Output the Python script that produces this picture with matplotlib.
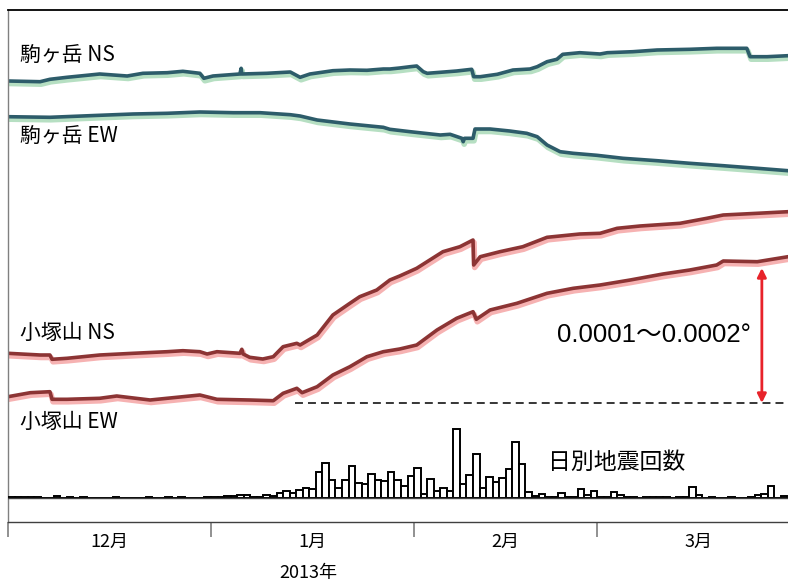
import numpy as np
import matplotlib
matplotlib.use('Agg')
import matplotlib.pyplot as plt
import matplotlib.transforms as mtransforms

# ---------------- data (x: days since 2012-12-01, y: display units) ----------------

kg_ns_day = [0, 4.9, 6.4, 9.0, 12.5, 14.0, 18.2, 20.6, 24.3, 26.7, 29.3, 29.9, 31.3, 35.4, 35.6, 35.7,
             39.5, 43.1, 44.6, 46.1, 49.6, 52.2, 54.8, 57.3, 58.3, 59.8, 61.4, 62.4, 63.4, 64.0, 66.0,
             68.5, 70.8, 71.1, 72.1, 74.7, 77.1, 79.7, 80.8, 82.3, 83.8, 84.7, 87.3, 90.4, 91.5, 95.4,
             99.1, 104.1, 108.2, 112.8, 113.3, 115.9, 119.1]
kg_ns_val = [441, 440.3, 442.7, 444.7, 447, 448, 446, 448.7, 449.3, 450.7, 448.7, 443.7, 446, 448, 453.7, 448,
             448.7, 450, 444.7, 448, 451.3, 452, 451.7, 453, 453, 454, 455.3, 456, 450.3, 448.7, 449.7,
             451, 452.7, 445.3, 445.3, 447.7, 452, 453, 455.3, 460.3, 462.7, 467.7, 469.3, 468, 469.3, 470.3,
             472, 472.7, 473.7, 473.7, 465.3, 465.3, 466.3]

kg_ew_day = [0, 6.4, 14.0, 19.1, 24.3, 29.3, 34.4, 38.5, 43.1, 44.6, 47.2, 52.2, 57.3, 58.3, 61.4, 66.0,
             67.5, 69.3, 69.5, 69.7, 71.0, 71.3, 73.6, 76.6, 79.2, 80.8, 82.3, 84.3, 86.3, 89.9, 93.9,
             99.1, 104.1, 109.2, 114.4, 119.1]
kg_ew_val = [405.3, 404.7, 406.7, 408, 408.7, 410, 409.3, 409.3, 407.3, 406, 402, 398, 394.7, 392.7, 390.3, 387,
             387.7, 383.7, 380.3, 383.7, 383.7, 393, 393, 391, 388.7, 385.3, 377, 370.3, 368.7, 366.7, 363.7,
             361.3, 358.7, 356.3, 353.7, 351.3]

kz_ns_day = [0, 4.9, 6.4, 6.72, 9.0, 14.0, 19.1, 24.3, 26.7, 29.3, 30.4, 31.9, 35.4, 35.7, 35.9, 36.9,
             38.9, 40.5, 42.0, 44.1, 44.6, 47.2, 49.6, 52.2, 53.7, 56.3, 58.3, 59.8, 62.4, 66.4, 69.0,
             71.0, 71.1, 72.1, 75.1, 78.6, 82.3, 87.3, 90.4, 93.0, 96.5, 102.6, 106.7, 109.2, 114.4, 119.1]
kz_ns_val = [168.7, 167, 167, 162.7, 163.7, 167, 168.7, 170.3, 171.3, 170.3, 168, 170.3, 168.7, 172.7, 168, 164.7,
             163, 165.3, 175.3, 178.7, 177, 187, 207, 218.7, 225.3, 232, 242, 246, 253.7, 270.3, 275.3,
             282, 257, 265.3, 270.3, 275.3, 284.7, 288, 288.7, 293.7, 296, 298.7, 303.7, 307, 308.7, 310.3]

kz_ew_day = [0, 3.4, 6.4, 6.72, 9.0, 14.0, 16.6, 21.7, 26.7, 29.3, 31.9, 36.9, 40.5, 42.0, 44.1, 44.9,
             47.2, 49.6, 52.2, 54.8, 57.3, 59.8, 62.4, 65.5, 68.5, 71.0, 71.5, 73.6, 77.7, 82.3, 86.3,
             90.4, 95.0, 100.0, 104.1, 108.2, 109.2, 114.4, 119.1]
kz_ew_val = [125.3, 129.3, 130.3, 122.7, 122.7, 123.7, 126, 122, 125.3, 127, 122.7, 122, 121.3, 128.7, 133.7, 129.3,
             135.3, 147, 155.3, 165.3, 170.3, 173, 177, 192, 203.7, 210.3, 202.7, 212, 218.7, 228.7, 233.7,
             237, 242, 248, 252, 257, 261, 260.3, 265.3]

# daily earthquake counts from 2012-12-01
counts = [1, 1, 1, 1, 1, 0, 0, 3, 0, 1, 0, 1, 0, 0, 0, 0, 1, 0, 0, 0,
          0, 1, 0, 0, 1, 0, 1, 0, 0, 0, 1, 1, 1, 3, 3, 4, 4, 1, 1, 5,
          3, 7, 11, 7, 12, 15, 13, 38, 51, 27, 14, 26, 47, 22, 21, 36, 26, 25, 38, 26,
          17, 33, 44, 6, 28, 11, 15, 11, 101, 21, 34, 65, 15, 31, 24, 29, 43, 82, 50, 9,
          3, 6, 1, 1, 7, 1, 2, 13, 5, 11, 2, 1, 9, 5, 1, 1, 0, 1, 1, 1,
          1, 0, 1, 1, 16, 5, 0, 1, 0, 0, 2, 0, 0, 2, 5, 6, 17, 0, 3]

month_starts = [0, 31, 62, 90]
month_mids = [15.5, 46.5, 76, 105.5]
month_labels = ['12月', '1月', '2月', '3月']

ref_level = 119
arrow_day = 115.1
arrow_top = 254

# ---------------- plot ----------------

jp = ['Noto Sans CJK JP', 'DejaVu Sans']

fig = plt.figure(figsize=(7.88, 5.81), dpi=100)
ax = fig.add_axes([8/788, 59/581, 792.5/788, 512/581])
ax.set_xlim(0, 121)
ax.set_ylim(0, 512)

under = mtransforms.offset_copy(ax.transData, fig=fig, x=1, y=-2.5, units='dots')

for d, v, c1, c2 in [(kg_ns_day, kg_ns_val, '#2d5c6a', '#b6dfc2'),
                     (kg_ew_day, kg_ew_val, '#2d5c6a', '#b6dfc2'),
                     (kz_ns_day, kz_ns_val, '#8c3434', '#f6b2b2'),
                     (kz_ew_day, kz_ew_val, '#8c3434', '#f6b2b2')]:
    ax.plot(d, v, color=c2, lw=4.0, transform=under, solid_joinstyle='round')
    ax.plot(d, v, color=c1, lw=2.6, solid_joinstyle='round')

# earthquake counts on their own scale
axb = ax.twinx()
axb.set_ylim(-24/0.68, 488/0.68)
axb.axis('off')
axb.bar(np.arange(len(counts)) + 0.5, counts, width=1.0, facecolor='white',
        edgecolor='black', lw=1.4)
axb.axhline(0, color='#404040', lw=1.0)

# reference level and amplitude arrow
ax.plot([43.8, 121], [ref_level, ref_level], color='black', lw=1.1, linestyle=(0, (5.2, 3.3)))
ax.annotate('', xy=(arrow_day, arrow_top), xytext=(arrow_day, ref_level),
            arrowprops=dict(arrowstyle='<|-|>', color='#e8232a', lw=2.0,
                            mutation_scale=13, shrinkA=0, shrinkB=0))
ax.text(98.6, 187, '0.0001～0.0002°', fontsize=18.5, ha='center', va='center',
        family=['Liberation Sans', 'Noto Sans CJK JP'])

ax.text(1.8, 466, '駒ヶ岳 NS', fontsize=15, va='center', family=jp)
ax.text(1.8, 385, '駒ヶ岳 EW', fontsize=15, va='center', family=jp)
ax.text(1.8, 189, '小塚山 NS', fontsize=15, va='center', family=jp)
ax.text(1.8, 100, '小塚山 EW', fontsize=15, va='center', family=jp)
ax.text(93.0, 60, '日別地震回数', fontsize=16.5, ha='center', va='center', family=jp)

# axes frame
ax.spines['left'].set_color('#808080')
ax.spines['left'].set_linewidth(1.0)
ax.spines['top'].set_color('black')
ax.spines['top'].set_linewidth(1.3)
ax.spines['bottom'].set_color('#404040')
ax.spines['bottom'].set_linewidth(1.0)
ax.spines['right'].set_visible(False)
ax.set_yticks([])

ax.set_xticks(month_starts)
ax.set_xticklabels([])
ax.tick_params(axis='x', which='major', direction='out', length=11, width=1.4, color='#909090')
ax.set_xticks(month_mids, minor=True)
ax.set_xticklabels(month_labels, minor=True, fontsize=13, family=jp)
ax.tick_params(axis='x', which='minor', length=0, pad=8)

ax.text(45.8, -0.1, '2013年', fontsize=13, ha='center', va='center', family=jp,
        transform=mtransforms.blended_transform_factory(ax.transData, ax.transAxes))

plt.savefig('out.png', dpi=100)
plt.close()
